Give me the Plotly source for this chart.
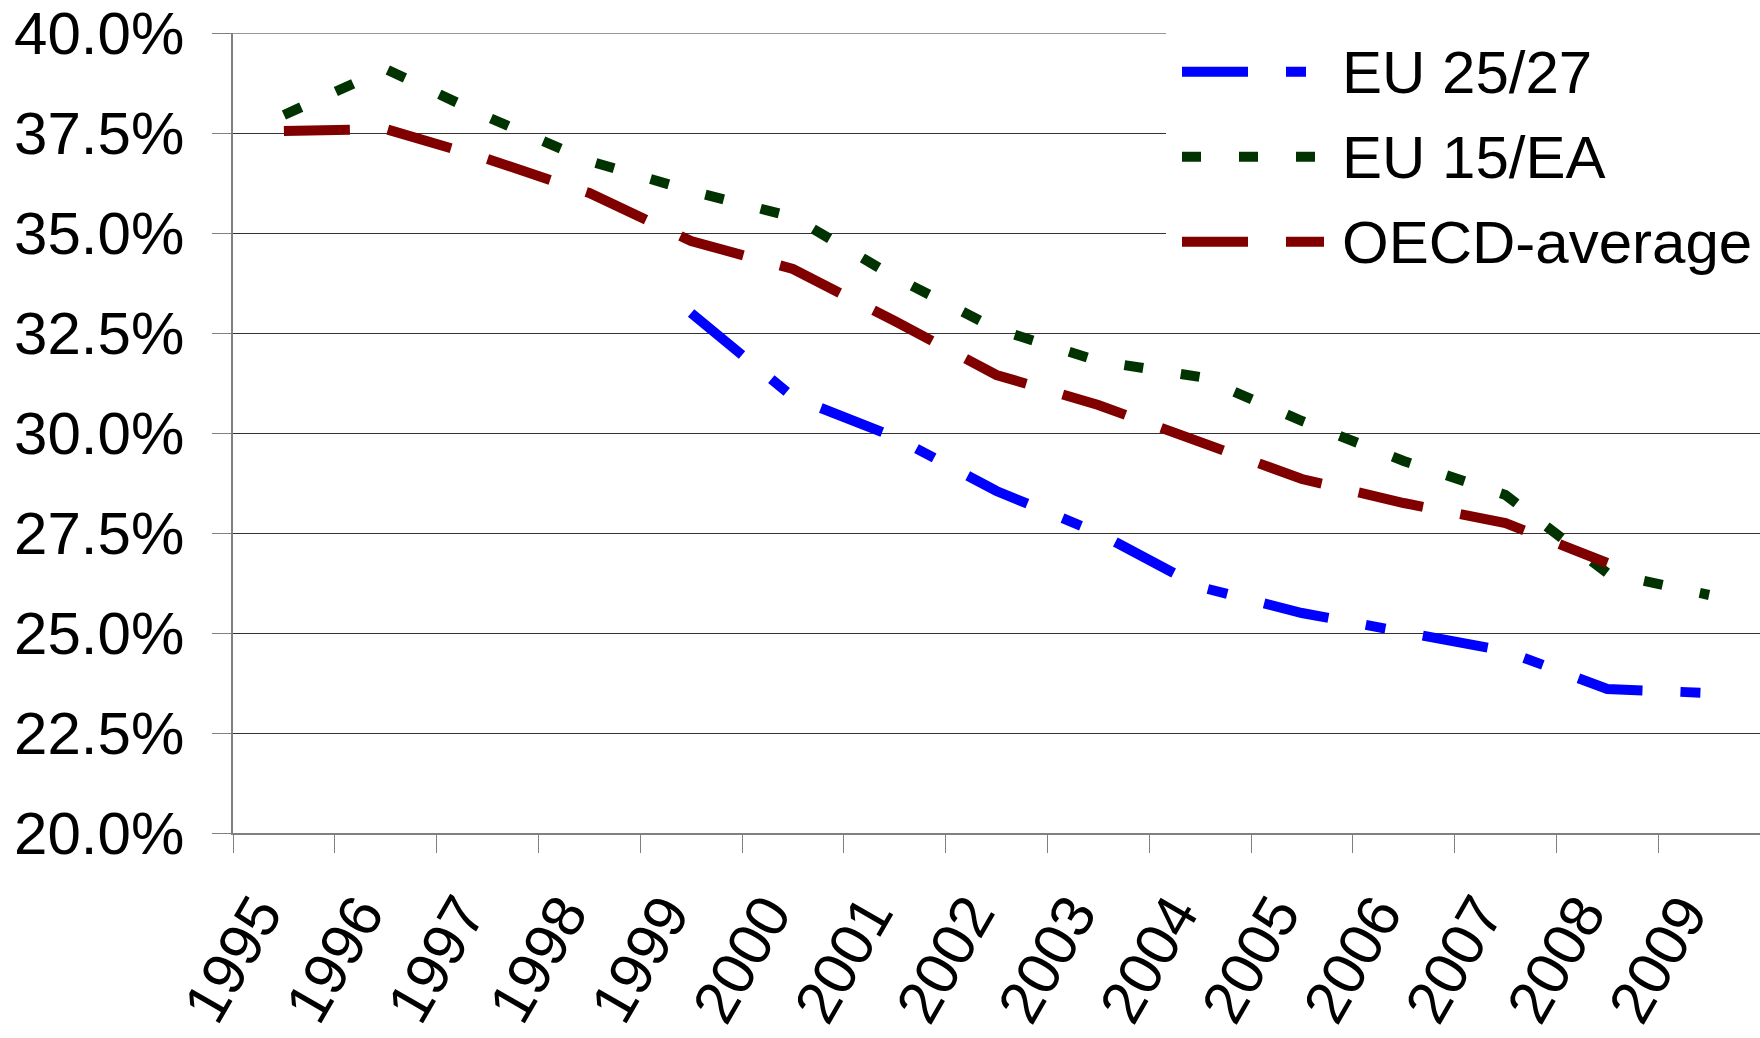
import plotly.graph_objects as go

years = ["1995", "1996", "1997", "1998", "1999", "2000", "2001", "2002",
         "2003", "2004", "2005", "2006", "2007", "2008", "2009"]
eu2527 = [None, None, None, None, 33.0, 30.9, 29.9, 28.55, 27.5, 26.15,
          25.5, 25.05, 24.55, 23.6, 23.5]
eu15 = [37.95, 39.1, 37.9, 36.8, 36.05, 35.4, 33.9, 32.6, 31.8, 31.4,
        30.3, 29.3, 28.45, 26.5, 25.95]
oecd = [37.55, 37.6, 36.85, 36.0, 34.8, 34.1, 32.8, 31.45, 30.7, 29.8,
        28.85, 28.25, 27.75, 26.75, None]
series_names = ["EU 25/27", "EU 15/EA", "OECD-average"]
y_ticks = [20.0, 22.5, 25.0, 27.5, 30.0, 32.5, 35.0, 37.5, 40.0]
y_ticktext = ["20.0%", "22.5%", "25.0%", "27.5%", "30.0%", "32.5%",
              "35.0%", "37.5%", "40.0%"]

colors = ["#0000FF", "#003300", "#800000"]
dashes = ["66px,38px,20px,38px", "19px,38px", "66px,38px"]
FONT = "Liberation Sans, Arial, sans-serif"
GRID = "#333333"

W, H = 1760, 1038
L, R, T, B = 233, 1760, 33, 833


def px(x):
    return (x - L) / (R - L)


def py(y):
    return (B - y) / (B - T)


fig = go.Figure()
for name, vals, col, dsh in zip(series_names, [eu2527, eu15, oecd], colors, dashes):
    fig.add_trace(go.Scatter(
        x=years, y=vals, name=name, mode="lines",
        line=dict(color=col, width=10, dash=dsh),
        connectgaps=False,
    ))

# top gridline (40%) which plotly omits at the range edge
shapes = [dict(type="line", xref="paper", yref="y", x0=0, x1=1,
               y0=y_ticks[-1], y1=y_ticks[-1], line=dict(color=GRID, width=1),
               layer="between")]
# legend background box
shapes.append(dict(type="rect", xref="paper", yref="paper",
                   x0=px(1166), x1=px(1762), y0=py(-5), y1=py(290),
                   fillcolor="white", line=dict(width=0), layer="above"))
annotations = []
legend_y = [71.7, 156.7, 241.7]
for name, col, dsh, ly in zip(series_names, colors, dashes, legend_y):
    shapes.append(dict(type="line", xref="paper", yref="paper",
                       x0=px(1182), x1=px(1324), y0=py(ly), y1=py(ly),
                       line=dict(color=col, width=10, dash=dsh), layer="above"))
    annotations.append(dict(text=name, xref="paper", yref="paper",
                            x=px(1340), y=py(ly + 1), xanchor="left", yanchor="middle",
                            showarrow=False, font=dict(family=FONT, size=60, color="black")))

fig.update_layout(
    width=W, height=H,
    margin=dict(l=L, r=W - R, t=T, b=H - B, pad=0, autoexpand=False),
    paper_bgcolor="white", plot_bgcolor="white",
    showlegend=False,
    font=dict(family=FONT, size=60, color="black"),
    shapes=shapes, annotations=annotations,
    xaxis=dict(type="category", range=[-0.5, 14.5], tickson="boundaries",
               automargin=False,
               ticks="outside", ticklen=18, tickcolor="#808080", tickwidth=1,
               showline=True, linecolor="#808080", linewidth=1.5,
               showgrid=False, tickangle=-60,
               ticklabelshift=-26, ticklabelstandoff=20,
               tickfont=dict(family=FONT, size=60, color="black")),
    yaxis=dict(range=[20, 40], tickvals=y_ticks, ticktext=y_ticktext,
               automargin=False,
               ticks="outside", ticklen=19, tickcolor="#808080", tickwidth=1,
               showline=True, linecolor="#808080", linewidth=1.5,
               showgrid=True, gridcolor=GRID, gridwidth=1, zeroline=False,
               ticklabelstandoff=16,
               tickfont=dict(family=FONT, size=60, color="black")),
)

fig.write_html("out.html", config={"displayModeBar": False},
               post_script="document.body.style.margin='0px';document.body.style.overflow='hidden';")
